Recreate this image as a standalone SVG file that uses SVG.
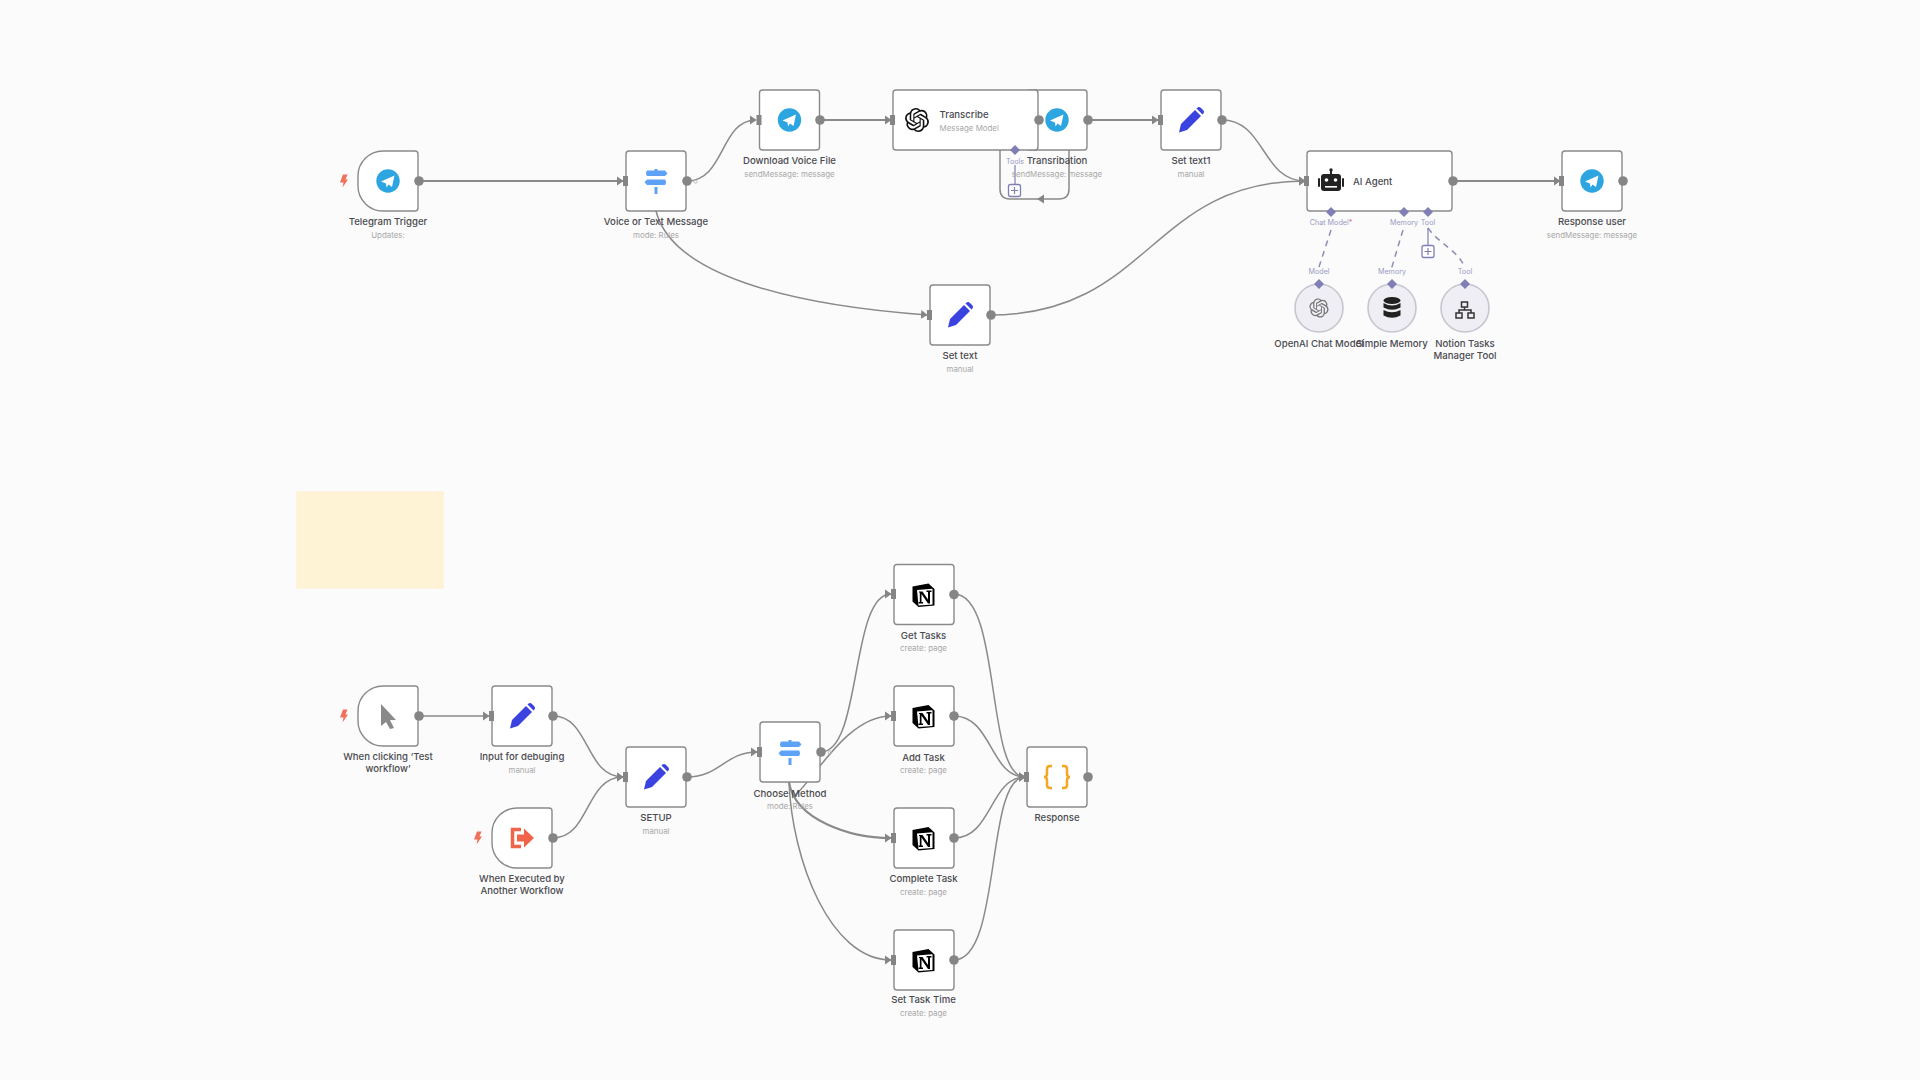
<svg xmlns="http://www.w3.org/2000/svg" width="1920" height="1080" viewBox="0 0 1920 1080">
<style>
text{font-family:"Inter","Open Sans","Liberation Sans",sans-serif}
.n{fill:#fff;stroke:#8a8a8a;stroke-width:1.4}
.name{font-size:9.6px;font-weight:500;fill:#4a4a4f;text-anchor:middle}
.sub{font-size:7.9px;fill:#a8a8a8;text-anchor:middle}
.side{font-size:9.6px;font-weight:500;fill:#4a4a4f}
.sideSub{font-size:7.9px;fill:#a8a8a8}
.conn{fill:none;stroke:#8a8a8a;stroke-width:1.5}
.main{stroke-width:2}
.dash{fill:none;stroke:#8e8eb4;stroke-width:1.5;stroke-dasharray:6 5}
.pl{font-size:7.2px;fill:#9a9ac4;text-anchor:middle}
.dot{fill:#858585}
.inp{fill:#858585}
.dia{fill:#7f7fb5}
.plus{fill:#fff;stroke:#7f7fb5;stroke-width:1.3}
.pp{stroke:#7f7fb5;stroke-width:1.2;fill:none}
.sn{fill:#eeeef4;stroke:#c6c6d0;stroke-width:1.6}
.bolt{fill:#f0705a}
</style>
<defs>
<marker id="arrow" markerWidth="8" markerHeight="10" refX="6" refY="5" orient="auto" markerUnits="userSpaceOnUse"><path d="M0 0.500 L6.500 5 L0 9.500Z" fill="#858585"/></marker>
<path id="bolt" d="M-1 -6.500 H3.500 L1.500 -1.500 H4 L-1.500 6.500 L-0.500 1.500 H-4 Z"/>
<symbol id="tg" overflow="visible"><circle r="11.7" fill="#2ca5e0"/><path d="M-7 0.500 L6.500 -5.500 L4 6 L0.500 3.500 L-1.500 6.500 L-2 2.500 Z" fill="#fff"/></symbol>
<symbol id="sw" overflow="visible"><g fill="#5ea2f5"><path d="M-9 -10.500 H9 L11.500 -7.500 L9 -5 H-9 Q-11 -7.500 -9 -10.500Z"/><path d="M-9 -1.500 H9 Q11 1 9 4 H-9 L-11.500 1.200Z"/><rect x="-1.500" y="-12" width="3" height="2"/><rect x="-1.500" y="6" width="3" height="7"/></g></symbol>
<symbol id="pen" overflow="visible"><g fill="#3a42e0"><path d="M-12 12.500 L-10 4 L4 -10 L10 -4 L-4 10 Z"/><path d="M6 -12 Q8 -14 10 -12 L12 -10 Q14 -8 12 -6 L11.500 -5.500 L5.500 -11.500Z"/></g></symbol>
<path id="ai" transform="translate(-12 -12)" d="M22.2819 9.8211a5.9847 5.9847 0 0 0-.5157-4.9108 6.0462 6.0462 0 0 0-6.5098-2.9A6.0651 6.0651 0 0 0 4.9807 4.1818a5.9847 5.9847 0 0 0-3.9977 2.9 6.0462 6.0462 0 0 0 .7427 7.0966 5.98 5.98 0 0 0 .511 4.9107 6.051 6.051 0 0 0 6.5146 2.9001A5.9847 5.9847 0 0 0 13.2599 24a6.0557 6.0557 0 0 0 5.7718-4.2058 5.9894 5.9894 0 0 0 3.9977-2.9001 6.0557 6.0557 0 0 0-.7475-7.0729zm-9.022 12.6081a4.4755 4.4755 0 0 1-2.8764-1.0408l.1419-.0804 4.7783-2.7582a.7948.7948 0 0 0 .3927-.6813v-6.7369l2.02 1.1686a.071.071 0 0 1 .038.052v5.5826a4.504 4.504 0 0 1-4.4945 4.4944zm-9.6607-4.1254a4.4708 4.4708 0 0 1-.5346-3.0137l.142.0852 4.783 2.7582a.7712.7712 0 0 0 .7806 0l5.8428-3.3685v2.3324a.0804.0804 0 0 1-.0332.0615L9.74 19.9502a4.4992 4.4992 0 0 1-6.1408-1.6464zM2.3408 7.8956a4.485 4.485 0 0 1 2.3655-1.9728V11.6a.7664.7664 0 0 0 .3879.6765l5.8144 3.3543-2.0201 1.1685a.0757.0757 0 0 1-.071 0l-4.8303-2.7865A4.504 4.504 0 0 1 2.3408 7.872zm16.5963 3.8558L13.1038 8.364 15.1192 7.2a.0757.0757 0 0 1 .071 0l4.8303 2.7913a4.4944 4.4944 0 0 1-.6765 8.1042v-5.6772a.79.79 0 0 0-.407-.667zm2.0107-3.0231l-.142-.0852-4.7735-2.7818a.7759.7759 0 0 0-.7854 0L9.409 9.2297V6.8974a.0662.0662 0 0 1 .0284-.0615l4.8303-2.7866a4.4992 4.4992 0 0 1 6.6802 4.66zM8.3065 12.863l-2.02-1.1638a.0804.0804 0 0 1-.038-.0567V6.0742a4.4992 4.4992 0 0 1 7.3757-3.4537l-.142.0805L8.704 5.459a.7948.7948 0 0 0-.3927.6813zm1.0976-2.3654l2.602-1.4998 2.6069 1.4998v2.9994l-2.5974 1.4997-2.6067-1.4997Z"/>
<symbol id="nt" overflow="visible"><path d="M-11 -8.500 L5 -11.500 L11 -6 L11 10.500 L-5 12 L-11 6.500 Z" fill="#000"/><path d="M-6.500 -5 L9 -6.200 L9 9.500 L-5 10.500 Z" fill="#fff"/><path d="M-4.500 -3.500 H-1 L4.500 4.500 V-3 H3 V-4.500 H8 V-3 H6.500 V8.500 H4.500 L-2 -1 V7 H-0.500 V8.500 H-5 V7 H-3.700 V-2.400 L-4.500 -2.400Z" fill="#000"/></symbol>
</defs>
<rect width="1920" height="1080" fill="#fbfbfb"/>
<rect id="sticky" x="297" y="492" width="146" height="96" fill="#fff3d6" stroke="#fff0cc"/>
<g id="connectors">
<path class="conn main" marker-end="url(#arrow)" d="M419 181 H623"/>
<path class="conn" marker-end="url(#arrow)" d="M687 181 C725 181 720 120 756 120"/>
<path class="conn" marker-end="url(#arrow)" d="M656 211 C672 275 790 305 927 315"/>
<path class="conn main" marker-end="url(#arrow)" d="M820 120 H891"/>
<path class="conn" d="M1069 150 V189 Q1069 199 1059 199 H1010 Q1000 199 1000 189 V150"/>
<path d="M1037 199 L1044 194.500 V203.500Z" fill="#858585"/>
<path class="conn main" marker-end="url(#arrow)" d="M1088 120 H1158"/>
<path class="conn" marker-end="url(#arrow)" d="M1222 120 C1265 120 1262 181 1305 181"/>
<path class="conn" marker-end="url(#arrow)" d="M990 315 C1150 315 1150 181 1305 181"/>
<path class="conn main" marker-end="url(#arrow)" d="M1453 181 H1560"/>
<path class="conn" marker-end="url(#arrow)" d="M419 716 H489"/>
<path class="conn" marker-end="url(#arrow)" d="M553 716 C590 716 585 777 623 777"/>
<path class="conn" marker-end="url(#arrow)" d="M553 838 C590 838 585 777 623 777"/>
<path class="conn" marker-end="url(#arrow)" d="M687 777 C720 777 725 752 757 752"/>
<path class="conn" marker-end="url(#arrow)" d="M821 752 C862 752 850 594 891 594"/>
<path class="conn" marker-end="url(#arrow)" d="M792 798 C812 784 845 716 891 716"/>
<path class="conn main" marker-end="url(#arrow)" d="M789 782 C795 820 850 838 891 838"/>
<path class="conn" marker-end="url(#arrow)" d="M789 782 C792 860 830 960 891 960"/>
<path class="conn" marker-end="url(#arrow)" d="M954 594 C1002 594 985 777 1025 777"/>
<path class="conn" marker-end="url(#arrow)" d="M954 716 C992 716 990 777 1025 777"/>
<path class="conn" marker-end="url(#arrow)" d="M954 838 C992 838 990 777 1025 777"/>
<path class="conn" marker-end="url(#arrow)" d="M954 960 C1002 960 985 777 1025 777"/>
<path class="dash" d="M1331 230 L1318 270"/>
<path class="dash" d="M1403 230 L1391 270"/>
<path class="dash" d="M1428 228 C1440 245 1458 250 1465 268"/>
<path class="pp" d="M1428 228 V245"/>
<path class="pp" d="M1015 165 V185"/>
</g>

<g id="telegram-trigger"><use href="#bolt" class="bolt" x="344" y="181"/><path class="n" d="M383 151 H415 Q418 151 418 154 V208 Q418 211 415 211 H383 A25 25 0 0 1 358 186 V176 A25 25 0 0 1 383 151Z"/><use href="#tg" x="388" y="181"/><circle class="dot" cx="419" cy="181" r="4.800"/><text class="name" x="388" y="225">Telegram Trigger</text><text class="sub" x="388" y="238">Updates:</text></g>
<g id="voice-or-text"><rect class="n" x="626" y="151" width="60" height="60" rx="3"/><rect class="inp" x="623" y="176" width="5" height="10"/><use href="#sw" x="656" y="181"/><circle class="dot" cx="687" cy="181" r="4.800"/><circle cx="695.500" cy="181.500" r="1.700" fill="none" stroke="#bbb"/><text class="name" x="656" y="225">Voice or Text Message</text><text class="sub" x="656" y="238">mode: Rules</text></g>
<g id="download-voice"><rect class="n" x="759.500" y="90" width="60" height="60" rx="3"/><rect class="inp" x="756.500" y="115" width="5" height="10"/><use href="#tg" x="789.500" y="120"/><circle class="dot" cx="820" cy="120" r="4.800"/><text class="name" x="789.500" y="164">Download Voice File</text><text class="sub" x="789.500" y="177">sendMessage: message</text></g>
<g id="transribation"><rect class="n" x="1027" y="90" width="60" height="60" rx="3"/><use href="#tg" x="1057" y="120"/><circle class="dot" cx="1088" cy="120" r="4.800"/><text class="name" x="1057" y="164">Transribation</text><text class="sub" x="1057" y="177">sendMessage: message</text></g>
<g id="transcribe"><rect class="n" x="893" y="90" width="145" height="60" rx="3"/><rect class="inp" x="890" y="115" width="5" height="10"/><g transform="translate(917 120)" fill="#111"><use href="#ai"/></g><text class="side" x="939.500" y="118">Transcribe</text><text class="sideSub" x="939.500" y="130.500">Message Model</text><circle class="dot" cx="1039" cy="120" r="4.800"/><path class="dia" d="M1015 145 L1020 150 L1015 155 L1010 150Z"/><text class="pl" x="1015" y="163.500">Tools</text><rect class="plus" x="1008.500" y="184.500" width="12" height="12" rx="2"/><path class="pp" d="M1014.500 187 V194 M1011 190.500 H1018"/></g>
<g id="set-text1"><rect class="n" x="1161" y="90" width="60" height="60" rx="3"/><rect class="inp" x="1158" y="115" width="5" height="10"/><use href="#pen" x="1191" y="120"/><circle class="dot" cx="1222" cy="120" r="4.800"/><text class="name" x="1191" y="164">Set text1</text><text class="sub" x="1191" y="177">manual</text></g>
<g id="ai-agent"><rect class="n" x="1307" y="151" width="145" height="60" rx="3"/><rect class="inp" x="1304" y="176" width="5" height="10"/>
<g fill="#222"><rect x="1321" y="174" width="20" height="17" rx="3"/><rect x="1318" y="178" width="2" height="9" rx="1"/><rect x="1342" y="178" width="2" height="9" rx="1"/><rect x="1330" y="170" width="2" height="4"/><circle cx="1331" cy="170" r="1.700"/></g><g fill="#fff"><circle cx="1326.500" cy="180" r="1.800"/><circle cx="1335.500" cy="180" r="1.800"/><rect x="1325" y="186" width="12" height="1.600"/></g>
<text class="side" x="1353" y="185">AI Agent</text><circle class="dot" cx="1453" cy="181" r="4.800"/>
<path class="dia" d="M1331 207 L1336 212 L1331 217 L1326 212Z"/><path class="dia" d="M1404 207 L1409 212 L1404 217 L1399 212Z"/><path class="dia" d="M1428 207 L1433 212 L1428 217 L1423 212Z"/>
<text class="pl" x="1331" y="225">Chat Model<tspan fill="#e0607a">*</tspan></text><text class="pl" x="1404" y="225">Memory</text><text class="pl" x="1428" y="225">Tool</text>
<rect class="plus" x="1422" y="245.500" width="12" height="12" rx="2"/><path class="pp" d="M1428 248 V255 M1424.500 251.500 H1431.500"/></g>
<g id="response-user"><rect class="n" x="1562" y="151" width="60" height="60" rx="3"/><rect class="inp" x="1559" y="176" width="5" height="10"/><use href="#tg" x="1592" y="181"/><circle class="dot" cx="1623" cy="181" r="4.800"/><text class="name" x="1592" y="225">Response user</text><text class="sub" x="1592" y="238">sendMessage: message</text></g>
<g id="set-text"><rect class="n" x="930" y="285" width="60" height="60" rx="3"/><rect class="inp" x="927" y="310" width="5" height="10"/><use href="#pen" x="960" y="315"/><circle class="dot" cx="991" cy="315" r="4.800"/><text class="name" x="960" y="359">Set text</text><text class="sub" x="960" y="372">manual</text></g>
<g id="openai-model"><circle class="sn" cx="1319" cy="308" r="24"/><g transform="translate(1319 308) scale(0.8)" fill="#777"><use href="#ai"/></g><path class="dia" d="M1319 279 L1324 284 L1319 289 L1314 284Z"/><text class="pl" x="1319" y="274">Model</text><text class="name" x="1319" y="347">OpenAI Chat Model</text></g>
<g id="simple-memory"><circle class="sn" cx="1392" cy="308" r="24"/><g fill="#222"><ellipse cx="1392" cy="300.500" rx="8.500" ry="3.500"/><path d="M1383.500 303 Q1392 308 1400.500 303 V307.500 Q1392 312 1383.500 307.500Z"/><path d="M1383.500 310 Q1392 314.500 1400.500 310 V315.500 Q1392 320 1383.500 315.500Z"/></g><path class="dia" d="M1392 279 L1397 284 L1392 289 L1387 284Z"/><text class="pl" x="1392" y="274">Memory</text><text class="name" x="1392" y="347">Simple Memory</text></g>
<g id="notion-tool"><circle class="sn" cx="1465" cy="308" r="24"/><g fill="none" stroke="#333" stroke-width="1.500"><rect x="1461.500" y="302" width="6" height="5"/><rect x="1456" y="313" width="6" height="5"/><rect x="1468" y="313" width="6" height="5"/><path d="M1464.500 307 V310 M1459 313 V310 H1471 V313"/></g><path class="dia" d="M1465 279 L1470 284 L1465 289 L1460 284Z"/><text class="pl" x="1465" y="274">Tool</text><text class="name" x="1465" y="347">Notion Tasks</text><text class="name" x="1465" y="359">Manager Tool</text></g>

<g id="manual-trigger"><use href="#bolt" class="bolt" x="344" y="716"/><path class="n" d="M383 686 H415 Q418 686 418 689 V743 Q418 746 415 746 H383 A25 25 0 0 1 358 721 V711 A25 25 0 0 1 383 686Z"/><path d="M381 704 L396 720 L390 720 L394 728 L390 729 L386 722 L381 726Z" fill="#8a8a8a"/><circle class="dot" cx="419" cy="716" r="4.800"/><text class="name" x="388" y="760">When clicking ‘Test</text><text class="name" x="388" y="772">workflow’</text></g>
<g id="input-debug"><rect class="n" x="492" y="686" width="60" height="60" rx="3"/><rect class="inp" x="489" y="711" width="5" height="10"/><use href="#pen" x="522" y="716"/><circle class="dot" cx="553" cy="716" r="4.800"/><text class="name" x="522" y="760">Input for debuging</text><text class="sub" x="522" y="773">manual</text></g>
<g id="executed-trigger"><use href="#bolt" class="bolt" x="478" y="838"/><path class="n" d="M517 808 H549 Q552 808 552 811 V865 Q552 868 549 868 H517 A25 25 0 0 1 492 843 V833 A25 25 0 0 1 517 808Z"/><path d="M521 829.500 H512.500 V846.500 H521" fill="none" stroke="#f0644a" stroke-width="3.500"/><path d="M517 834.500 H524 V828.500 L534 838 L524 847.500 V841.500 H517Z" fill="#f0644a"/><circle class="dot" cx="553" cy="838" r="4.800"/><text class="name" x="522" y="882">When Executed by</text><text class="name" x="522" y="894">Another Workflow</text></g>
<g id="setup"><rect class="n" x="626" y="747" width="60" height="60" rx="3"/><rect class="inp" x="623" y="772" width="5" height="10"/><use href="#pen" x="656" y="777"/><circle class="dot" cx="687" cy="777" r="4.800"/><text class="name" x="656" y="821">SETUP</text><text class="sub" x="656" y="834">manual</text></g>
<g id="choose-method"><rect class="n" x="760" y="722" width="60" height="60" rx="3"/><rect class="inp" x="757" y="747" width="5" height="10"/><use href="#sw" x="790" y="752"/><circle class="dot" cx="821" cy="752" r="4.800"/><circle cx="830" cy="752.500" r="1.700" fill="none" stroke="#bbb"/><text class="name" x="790" y="796.500">Choose Method</text><text class="sub" x="790" y="809">mode: Rules</text></g>
<g id="get-tasks"><rect class="n" x="894" y="564.500" width="60" height="60" rx="3"/><rect class="inp" x="891" y="589" width="5" height="10"/><use href="#nt" x="923.500" y="595"/><circle class="dot" cx="954" cy="594.500" r="4.800"/><text class="name" x="923.500" y="639">Get Tasks</text><text class="sub" x="923.500" y="651">create: page</text></g>
<g id="add-task"><rect class="n" x="894" y="686" width="60" height="60" rx="3"/><rect class="inp" x="891" y="711" width="5" height="10"/><use href="#nt" x="923.500" y="716.500"/><circle class="dot" cx="954" cy="716" r="4.800"/><text class="name" x="923.500" y="760.500">Add Task</text><text class="sub" x="923.500" y="773">create: page</text></g>
<g id="complete-task"><rect class="n" x="894" y="808" width="60" height="60" rx="3"/><rect class="inp" x="891" y="833" width="5" height="10"/><use href="#nt" x="923.500" y="838.500"/><circle class="dot" cx="954" cy="838" r="4.800"/><text class="name" x="923.500" y="882">Complete Task</text><text class="sub" x="923.500" y="895">create: page</text></g>
<g id="set-task-time"><rect class="n" x="894" y="930" width="60" height="60" rx="3"/><rect class="inp" x="891" y="955" width="5" height="10"/><use href="#nt" x="923.500" y="960.500"/><circle class="dot" cx="954" cy="960" r="4.800"/><text class="name" x="923.500" y="1003">Set Task Time</text><text class="sub" x="923.500" y="1016">create: page</text></g>
<g id="response"><rect class="n" x="1027" y="747" width="60" height="60" rx="3"/><rect class="inp" x="1024" y="772" width="5" height="10"/><g fill="none" stroke="#f5a623" stroke-width="2.500"><path d="M1052 766 H1050 Q1047 766 1047 769 V774 Q1047 777 1044 777 Q1047 777 1047 780 V785 Q1047 788 1050 788 H1052"/><path d="M1062 766 H1064 Q1067 766 1067 769 V774 Q1067 777 1070 777 Q1067 777 1067 780 V785 Q1067 788 1064 788 H1062"/></g><circle class="dot" cx="1088" cy="777" r="4.800"/><text class="name" x="1057" y="821">Response</text></g>
</svg>
